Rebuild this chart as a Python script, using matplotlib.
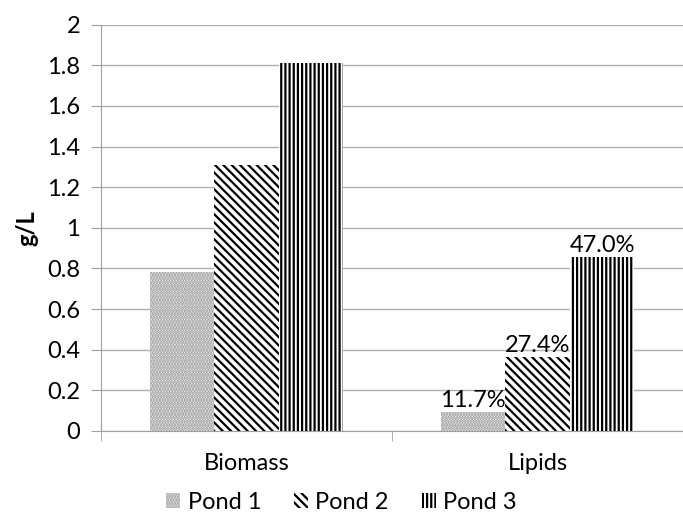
import matplotlib.pyplot as plt
import numpy as np

categories = ["Biomass", "Lipids"]
series = ["Pond 1", "Pond 2", "Pond 3"]
pond1 = [0.78, 0.094]
pond2 = [1.31, 0.363]
pond3 = [1.81, 0.855]
lipid_labels = ["11.7%", "27.4%", "47.0%"]

hatches = ["......", "\\\\\\\\", "||||"]
hatch_colors = ["#8c8c8c", "black", "black"]

plt.rcParams['font.family'] = ['Lato', 'DejaVu Sans']
plt.rcParams['hatch.linewidth'] = 1.6

fig = plt.figure(figsize=(6.83, 5.16), dpi=100)
ax = fig.add_axes([0.148, 0.165, 0.852, 0.787])

x = np.arange(len(categories))
w = 0.222
values = [pond1, pond2, pond3]
for i, vals in enumerate(values):
    ax.bar(x + (i - 1) * w, vals, w, facecolor="white",
           edgecolor=hatch_colors[i], hatch=hatches[i],
           linewidth=0, label=series[i], zorder=3)
    ax.text(x[1] + (i - 1) * w, vals[1] + 0.005, lipid_labels[i],
            ha="center", va="bottom", fontsize=17, zorder=4)

ax.set_ylim(0, 2)
ax.set_xlim(-0.5, 1.5)
ax.set_yticks(np.arange(0, 2.01, 0.2))
ax.set_yticklabels(["0", "0.2", "0.4", "0.6", "0.8", "1", "1.2", "1.4", "1.6", "1.8", "2"])
ax.yaxis.grid(True, color="#b0b0b0", linewidth=1, zorder=0)
ax.set_ylabel("g/L", fontsize=17, fontweight="bold", labelpad=6)

ax.set_xticks(x)
ax.set_xticklabels(categories, fontsize=17)
ax.set_xticks([-0.5, 0.5, 1.5], minor=True)
ax.tick_params(axis="x", which="major", length=0, pad=16)
ax.tick_params(axis="x", which="minor", length=7, color="#a0a0a0")
ax.tick_params(axis="y", length=7, color="#a0a0a0", labelsize=17, pad=8)

for s in ["top", "right"]:
    ax.spines[s].set_visible(False)
ax.spines["left"].set_color("#a0a0a0")
ax.spines["bottom"].set_color("#a0a0a0")

fig.legend(loc="lower center", ncol=3, frameon=False, fontsize=17,
           bbox_to_anchor=(0.5, -0.035), handlelength=0.6, handleheight=0.6,
           columnspacing=1.4, handletextpad=0.3)

fig.savefig("out.png", dpi=100)
